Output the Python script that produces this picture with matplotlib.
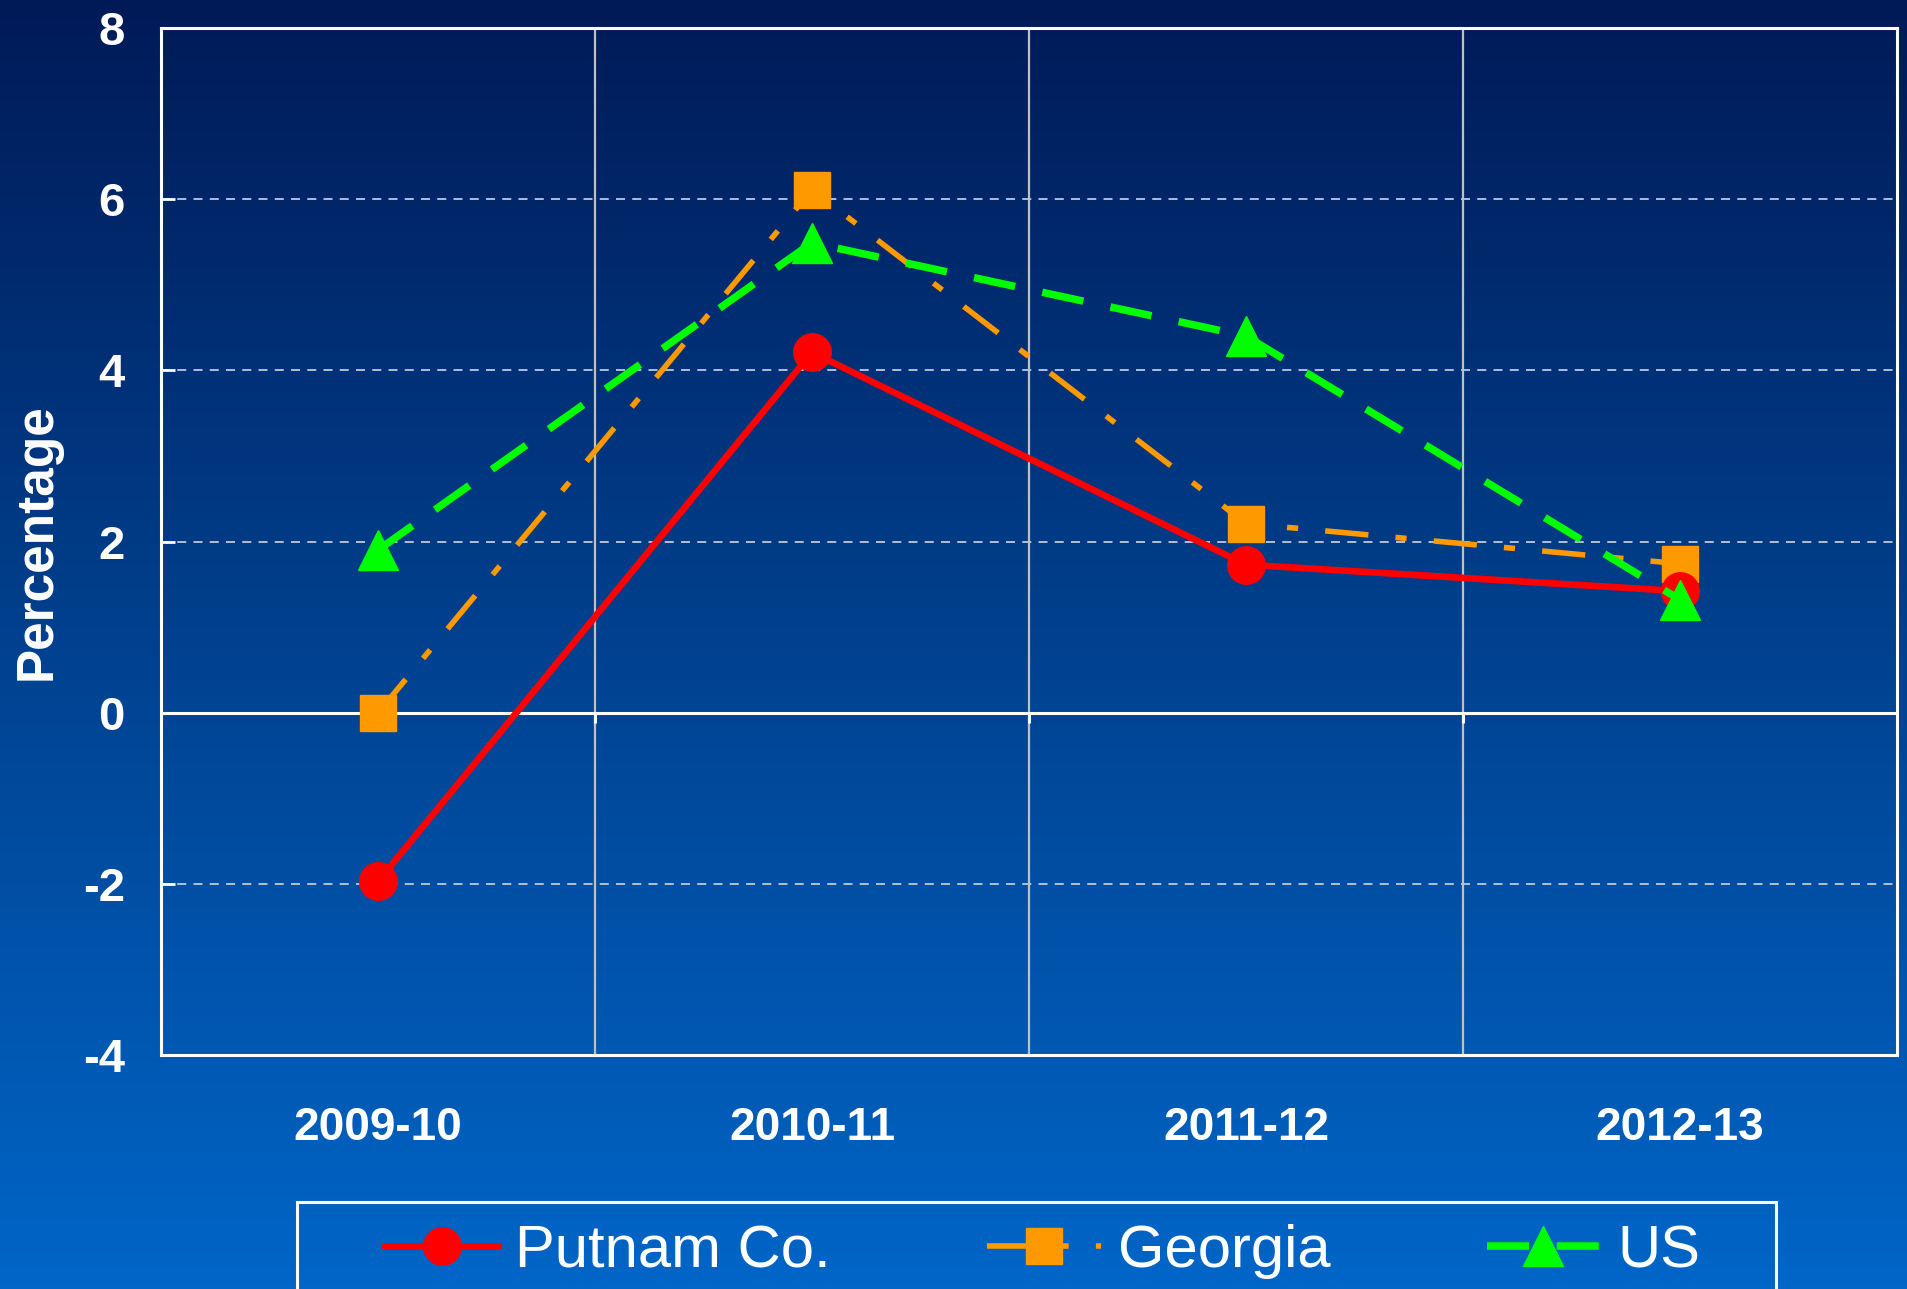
import matplotlib.pyplot as plt
from matplotlib.colors import LinearSegmentedColormap
from matplotlib.patches import Rectangle
import numpy as np

# Datos
periodos = ['2009-10', '2010-11', '2011-12', '2012-13']
putnam = [-1.97, 4.21, 1.73, 1.42]
georgia = [0.0, 6.11, 2.21, 1.74]
us = [1.90, 5.49, 4.40, 1.32]
y_ticks = [-4, -2, 0, 2, 4, 6, 8]

fig = plt.figure(figsize=(19.08, 12.89), dpi=100)

# Fondo degradado de toda la figura
fondo = fig.add_axes([0, 0, 1, 1], zorder=-10)
cmap = LinearSegmentedColormap.from_list('fondo', ['#001a57', '#00418f', '#0066c8'])
grad = np.linspace(0, 1, 256).reshape(-1, 1)
fondo.imshow(grad, aspect='auto', cmap=cmap, extent=[0, 1, 0, 1], origin='upper')
fondo.axis('off')

ax = fig.add_axes([0.0844, 0.1815, 0.9098, 0.7968])
ax.set_facecolor('none')

x = np.arange(len(periodos))
ax.plot(x, putnam, color='#ff0000', lw=4.8, marker='o', ms=27, label='Putnam Co.', zorder=5)
ax.plot(x, georgia, color='#ff9900', lw=4.0, marker='s', ms=26, dashes=(7.8, 4.9, 2.0, 4.9),
        label='Georgia', zorder=4)
ax.plot(x, us, color='#00ff00', lw=5.4, marker='^', ms=29, dashes=(5.6, 3.7), label='US', zorder=6)

ax.set_xlim(-0.5, len(periodos) - 0.5)
ax.set_ylim(-4, 8)
ax.set_yticks(y_ticks)
ax.set_yticklabels([str(v) for v in y_ticks])
ax.set_xticks(x)
ax.set_xticklabels(periodos)
ax.set_xticks(x[:-1] + 0.5, minor=True)

# Rejilla: horizontal discontinua, vertical continua
for v in y_ticks:
    if v not in (0, -4, 8):
        ax.axhline(v, color='#c0c8d8', lw=1.3, ls=(0, (5, 4)), zorder=1)
ax.grid(axis='x', which='minor', color='#c0c0c0', lw=1.6, zorder=1)
ax.axhline(0, color='white', lw=2.2, zorder=2)
ax.vlines(x[:-1] + 0.5, -0.12, 0, color='white', lw=2.2, zorder=2)

for s in ax.spines.values():
    s.set_color('white')
    s.set_linewidth(2.2)

ax.tick_params(axis='y', direction='in', length=10, width=2, color='white', pad=26,
               labelsize=34, labelcolor='white')
ax.tick_params(axis='x', which='both', length=0, pad=37, labelsize=33, labelcolor='white')
for lab in ax.get_xticklabels() + ax.get_yticklabels():
    lab.set_fontweight('bold')
    lab.set_family('Liberation Sans')

ax.set_ylabel('Percentage', fontsize=37, fontweight='bold', color='white', family='Liberation Sans')
ax.yaxis.set_label_coords(-0.057, 0.5)

# Marco de la leyenda (se sale por abajo de la figura)
marco = Rectangle((297 / 1908, -0.05), (1776 - 297) / 1908, 0.05 + 1 - 1202 / 1289,
                  transform=fig.transFigure, facecolor='none', edgecolor='white', lw=2.2,
                  clip_on=False)
fig.patches.append(marco)

leg = fig.legend(loc='upper left', bbox_to_anchor=(385 / 1908, 1 - 1224 / 1289),
                 ncol=3, frameon=False, handlelength=1.9, handletextpad=0.28,
                 columnspacing=2.62, borderaxespad=0, borderpad=0,
                 prop={'family': ['Liberation Sans Narrow', 'Liberation Sans'], 'size': 43})
for t in leg.get_texts():
    t.set_color('white')

plt.savefig('out.png', dpi=100)
